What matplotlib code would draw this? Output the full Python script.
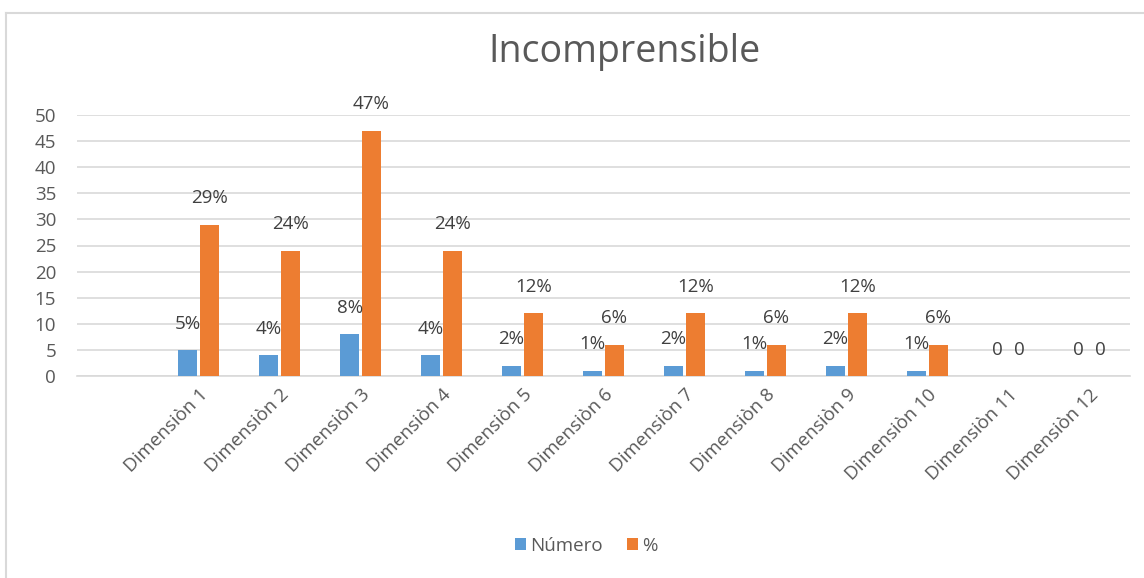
import matplotlib
matplotlib.use("Agg")
import matplotlib.pyplot as plt
import numpy as np
from matplotlib.lines import Line2D

plt.rcParams['font.family'] = ['Open Sans', 'DejaVu Sans']

categories = [f"Dimensiòn {i}" for i in range(1, 13)]
numero = [5, 4, 8, 4, 2, 1, 2, 1, 2, 1, 0, 0]
pct = [29, 24, 47, 24, 12, 6, 12, 6, 12, 6, 0, 0]
numero_labels = ["5%", "4%", "8%", "4%", "2%", "1%", "2%", "1%", "2%", "1%", "0", "0"]
pct_labels = ["29%", "24%", "47%", "24%", "12%", "6%", "12%", "6%", "12%", "6%", "0", "0"]
yticks = [0, 5, 10, 15, 20, 25, 30, 35, 40, 45, 50]

W, H = 1144, 578
fig = plt.figure(figsize=(W / 100, H / 100), dpi=100)
fig.patch.set_facecolor("white")

# chart border (top and left visible)
fig.add_artist(Line2D([6 / W, 6 / W], [0, 1 - 13 / H], color="#D9D9D9", lw=1.5, transform=fig.transFigure))
fig.add_artist(Line2D([6 / W, 1], [1 - 13 / H, 1 - 13 / H], color="#D9D9D9", lw=1.5, transform=fig.transFigure))

left, right = 77, 1130
top, bottom = 115, 376
ax = fig.add_axes([left / W, 1 - bottom / H, (right - left) / W, (bottom - top) / H])

x = np.arange(len(categories))
bw = 0.245
off = 0.135
blue = "#5B9BD5"
orange = "#ED7D31"
b1 = ax.bar(x - off, numero, bw, color=blue, label="Número", zorder=3)
b2 = ax.bar(x + off, pct, bw, color=orange, label="%", zorder=3)

tc = "#595959"
lc = "#404040"
fs = 13.5
for xi, v, s in zip(x, numero, numero_labels):
    ax.annotate(s, (xi - off, v), xytext=(0, 12.5), textcoords="offset points",
                ha="center", va="bottom", fontsize=fs, color=lc)
for xi, v, s in zip(x, pct, pct_labels):
    ax.annotate(s, (xi + off, v), xytext=(0, 12.5), textcoords="offset points",
                ha="center", va="bottom", fontsize=fs, color=lc)

ax.set_xlim(-1.5, len(categories) - 0.5)
ax.set_ylim(0, 50)
ax.set_yticks(yticks)
ax.set_yticklabels([str(t) for t in yticks], fontsize=fs, color=tc)
ax.yaxis.grid(True, color="#D9D9D9", lw=1.2, zorder=0)
ax.set_axisbelow(True)
ax.tick_params(axis="y", length=0, pad=15)
ax.tick_params(axis="x", length=0, pad=7)
ax.set_xticks(x)
ax.set_xticklabels(categories, rotation=45, ha="right", rotation_mode="anchor",
                   fontsize=fs, color=tc)
for s in ["top", "right", "left"]:
    ax.spines[s].set_visible(False)
ax.spines["bottom"].set_color("#D9D9D9")
ax.spines["bottom"].set_linewidth(1.2)

fig.text(625 / W, 1 - 52 / H, "Incomprensible", ha="center", va="center",
         fontsize=27, color="#595959")

fig.legend(handles=[b1, b2], labels=["Número", "%"], loc="center",
           bbox_to_anchor=(586 / W, 1 - 546 / H), ncol=2, frameon=False,
           fontsize=fs, labelcolor=tc, handlelength=0.6, handleheight=0.6,
           handletextpad=0.2, columnspacing=1.3)

fig.savefig("out.png", dpi=100, facecolor="white")
